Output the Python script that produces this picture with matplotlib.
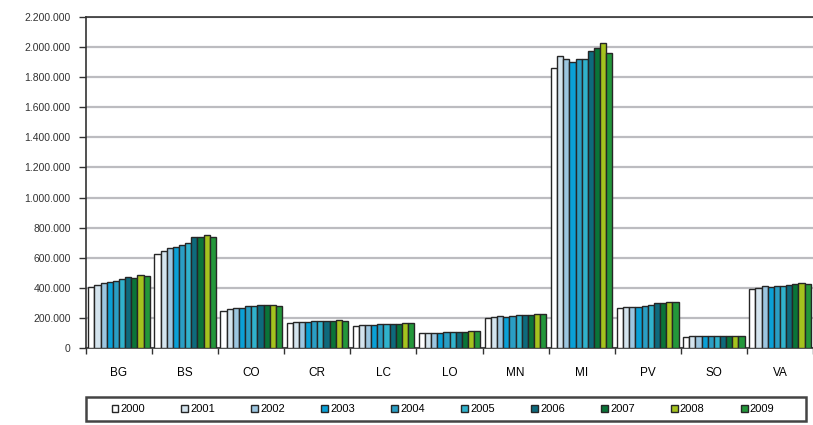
import matplotlib.pyplot as plt
import numpy as np
from matplotlib.patches import Rectangle
from matplotlib.ticker import FuncFormatter, MultipleLocator

provinces = ["BG", "BS", "CO", "CR", "LC", "LO", "MN", "MI", "PV", "SO", "VA"]
years = ["2000", "2001", "2002", "2003", "2004", "2005", "2006", "2007", "2008", "2009"]

# values per province, one per year (2000..2009)
bg = [405000, 422000, 435000, 437000, 447000, 457000, 470000, 466000, 486000, 481000]
bs = [627000, 647000, 667000, 670000, 682000, 697000, 735000, 735000, 751000, 740000]
co = [249000, 258000, 264000, 268000, 276000, 281000, 283000, 283000, 283000, 281000]
cr = [168000, 170000, 172000, 175000, 178000, 180000, 182000, 182000, 183000, 182000]
lc = [147000, 152000, 155000, 155000, 157000, 158000, 162000, 160000, 164000, 163000]
lo = [98000, 100000, 103000, 103000, 104000, 105000, 107000, 108000, 110000, 110000]
mn = [200000, 205000, 210000, 207000, 215000, 218000, 222000, 222000, 228000, 228000]
mi = [1862000, 1938000, 1920000, 1904000, 1918000, 1924000, 1976000, 1991000, 2029000, 1962000]
pv = [268000, 272000, 275000, 272000, 280000, 288000, 298000, 298000, 305000, 305000]
so = [75000, 77000, 78000, 78000, 79000, 80000, 81000, 82000, 83000, 82000]
va = [393000, 400000, 412000, 405000, 413000, 410000, 418000, 423000, 432000, 425000]

data = np.array([bg, bs, co, cr, lc, lo, mn, mi, pv, so, va])

colors = ["#ffffff", "#d4e4ee", "#9cc6e0", "#0aa0d6", "#2a9ec4",
          "#30b2cc", "#0e6a7c", "#0a7438", "#a4c21e", "#23973a"]

fig = plt.figure(figsize=(8.13, 4.25), dpi=100)
ax = fig.add_axes([86/813, 1-348/425, (813-86)/813, (348-17)/425])

x = np.arange(len(provinces))
w = 0.093
for i in range(len(years)):
    ax.bar(x - 0.465 + i*w + w/2, data[:, i], width=w, color=colors[i],
           edgecolor="#262626", linewidth=1.0, label=years[i], zorder=3)

ax.set_xlim(-0.5, 10.5 - 4.5/66.5)
ax.set_ylim(0, 2200000)
ax.yaxis.set_major_locator(MultipleLocator(200000))
ax.yaxis.set_major_formatter(FuncFormatter(lambda v, p: f"{int(v):,}".replace(",", ".")))
ax.grid(axis="y", color="#bcbcc0", linewidth=1.6, zorder=0)

ax.set_xticks(x)
ax.set_xticklabels(provinces, fontsize=8.5, family="Liberation Sans")
ax.set_xticks(np.arange(-0.5, 11, 1), minor=True)
ax.tick_params(axis="x", which="major", length=0, pad=14)
ax.tick_params(axis="x", which="minor", length=4, direction="out", width=1, color="#333333")
ax.tick_params(axis="y", length=5, width=1, color="#333333", labelsize=7.5, pad=6)
for lbl in ax.get_yticklabels():
    lbl.set_family("Liberation Sans")
    lbl.set_color("#333333")

for s in ["left", "bottom", "top"]:
    ax.spines[s].set_color("#333333")
    ax.spines[s].set_linewidth(1.2)
ax.spines["right"].set_visible(False)

# legend box like the excel one
fig.patches.append(Rectangle((86/813, 4/425), (806-86)/813, 24/425, transform=fig.transFigure,
                             fill=False, edgecolor="#444444", linewidth=1.8))
leg = fig.legend(loc="center", bbox_to_anchor=(443/813, 15.5/425), ncol=10, frameon=False,
                 handlelength=0.6, handleheight=0.6, handletextpad=0.2, columnspacing=3.27,
                 borderaxespad=0, prop={"family": "Liberation Sans", "size": 8})

fig.savefig("out.png", dpi=100)
